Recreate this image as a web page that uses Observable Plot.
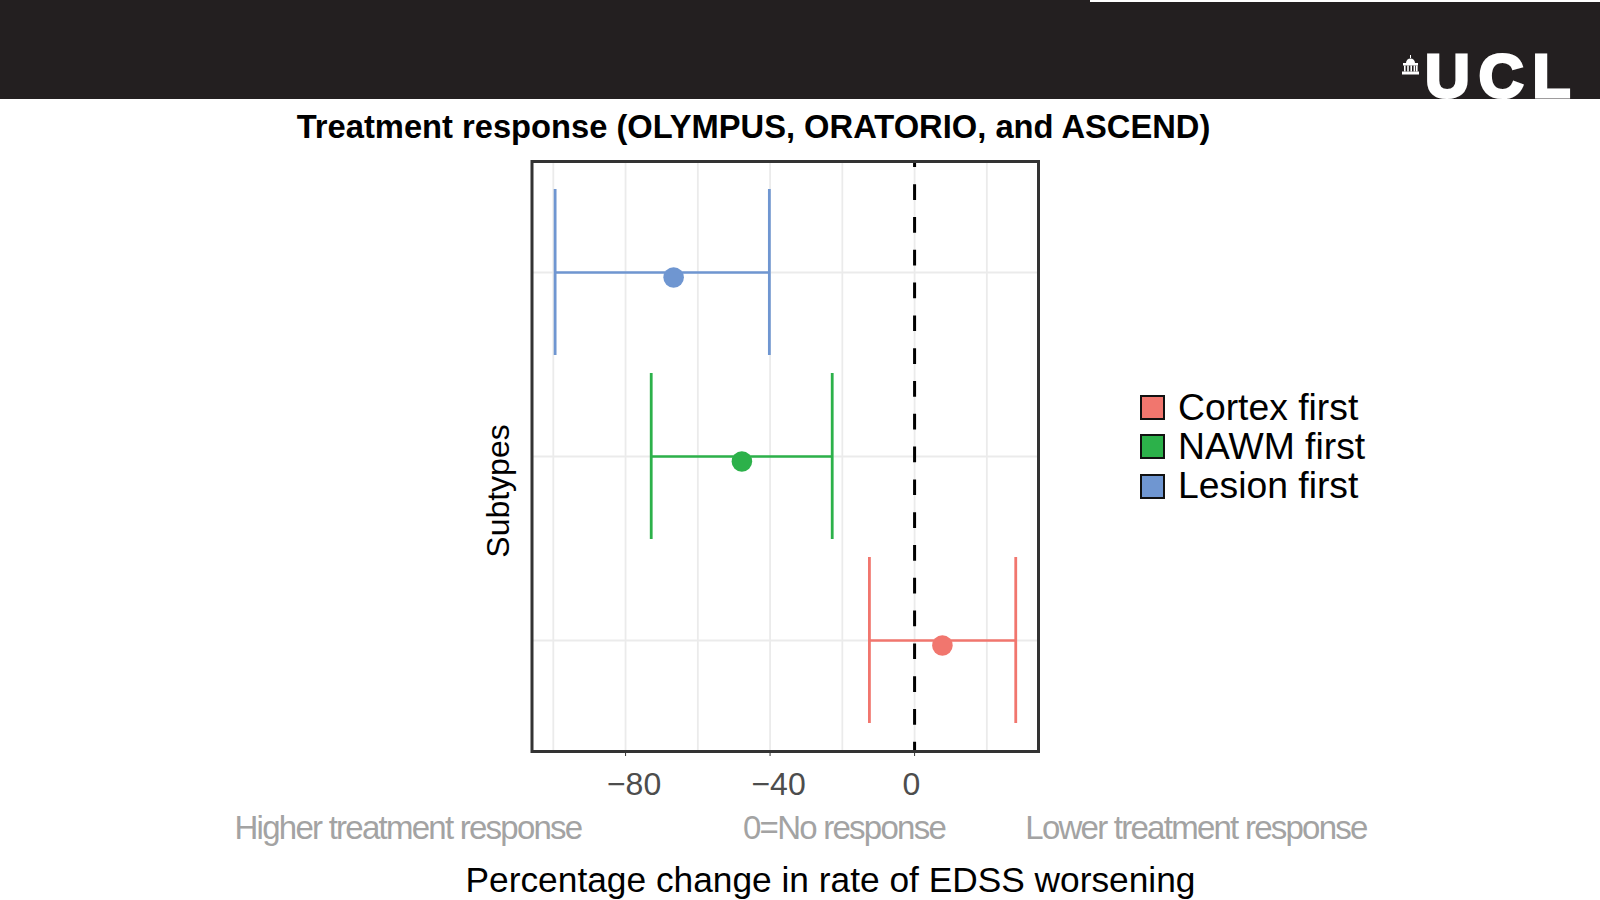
<!DOCTYPE html>
<html>
<head>
<meta charset="utf-8">
<script src="https://cdn.jsdelivr.net/npm/d3@7"></script>
<script src="https://cdn.jsdelivr.net/npm/@observablehq/plot@0.6"></script>
<style>
  html, body { margin: 0; padding: 0; background: #fff; }
  body { width: 1600px; height: 900px; position: relative; overflow: hidden;
         font-family: "Liberation Sans", Arial, Helvetica, sans-serif; }
  #chart { position: absolute; left: 0; top: 0; }
  .abs { position: absolute; line-height: 1; white-space: nowrap; }
  .c { transform: translate(-50%, -50%); }
  #banner { position: absolute; left: 0; top: 0; width: 1600px; height: 99px; background: #231f20; overflow: hidden; }
  #strip { position: absolute; left: 1090px; top: 0; width: 510px; height: 2px; background: #fff; }
  #ucl { position: absolute; left: 1425px; top: 45px; font-size: 62px; font-weight: bold; color: #fff;
         line-height: 1; letter-spacing: 9px; -webkit-text-stroke: 3.2px #fff; }
  #bldg { position: absolute; left: 1401px; top: 55px; }
  .grey { color: #a3a3a3; font-size: 33px; letter-spacing: -1.75px; }
  .legrow { position: absolute; left: 1140px; height: 25px; display: flex; align-items: center; }
  .sw { width: 25px; height: 25px; box-sizing: border-box; border: 2.8px solid #111; }
  .lt { font-size: 37.3px; line-height: 1; margin-left: 13px; color: #000; }
</style>
</head>
<body>
<div id="chart"></div>
<div id="banner">
  <div id="strip"></div>
  <svg id="bldg" width="19" height="21" viewBox="0 0 19 21">
    <rect x="9" y="0" width="1" height="3" fill="#fff"/>
    <path d="M5,8 A4.5,4.5 0 0 1 14,8 Z" fill="#fff"/>
    <rect x="2" y="8" width="15" height="2.5" fill="#fff"/>
    <rect x="3" y="10.5" width="1.6" height="6" fill="#fff"/>
    <rect x="6.2" y="10.5" width="1.6" height="6" fill="#fff"/>
    <rect x="9.4" y="10.5" width="1.6" height="6" fill="#fff"/>
    <rect x="12.6" y="10.5" width="1.6" height="6" fill="#fff"/>
    <rect x="15" y="10.5" width="1.6" height="6" fill="#fff"/>
    <rect x="1" y="16.5" width="17" height="3" fill="#fff"/>
  </svg>
  <div id="ucl">UCL</div>
</div>
<div class="abs c" style="left:753.5px; top:126.5px; font-size:32.7px; font-weight:bold; color:#000;">Treatment response (OLYMPUS, ORATORIO, and ASCEND)</div>
<div class="abs c" style="left:497.5px; top:491px; font-size:32px; color:#000; transform: translate(-50%,-50%) rotate(-90deg);">Subtypes</div>
<div id="legend"></div>
<div class="abs c grey" style="left:408px; top:826.5px;">Higher treatment response</div>
<div class="abs c grey" style="left:844px; top:826.5px;">0=No response</div>
<div class="abs c grey" style="left:1196px; top:826.5px;">Lower treatment response</div>
<div class="abs c" style="left:830.5px; top:880px; font-size:35.3px; color:#000;">Percentage change in rate of EDSS worsening</div>
<script>
// ---- Data ----
const subtypes = ["Cortex first", "NAWM first", "Lesion first"];
const estimate = [7.7, -47.8, -66.7];
const lower = [-12.5, -72.9, -99.5];
const upper = [28.0, -22.8, -40.2];
const colors = ["#F1766E", "#2CB14A", "#6F96D1"];
const yOrder = ["Lesion first", "NAWM first", "Cortex first"];
const xTicks = [-80, -40, 0];
const xTickLabels = ["\u221280", "\u221240", "0"];
const xGrid = [-100, -80, -60, -40, -20, 0, 20];

const rows = subtypes.map((s, i) => ({subtype: s, estimate: estimate[i], lower: lower[i], upper: upper[i]}));
const fmt = d => xTickLabels[xTicks.indexOf(d)];
const negTicks = xTicks.filter(d => d < 0);
const zeroTicks = xTicks.filter(d => d >= 0);

const chart = Plot.plot({
  width: 1600,
  height: 900,
  marginLeft: 531.5,
  marginRight: 562,
  marginTop: 161,
  marginBottom: 149,
  style: {fontFamily: '"Liberation Sans", Arial, Helvetica, sans-serif', background: "transparent", color: "#333333"},
  x: {domain: [-105.9, 34.3], ticks: xTicks, tickSize: 5, tickFormat: () => "", label: null},
  y: {type: "band", domain: yOrder, paddingInner: 0.1, paddingOuter: 0.15, axis: null},
  color: {domain: subtypes, range: colors},
  marks: [
    Plot.ruleX(xGrid, {x: d => d, stroke: "#ebebeb", strokeWidth: 1.8}),
    Plot.ruleY(yOrder, {y: d => d, stroke: "#ebebeb", strokeWidth: 1.8}),
    Plot.ruleX([0], {x: d => d, stroke: "#000", strokeWidth: 3, strokeDasharray: "15.7,17.1", strokeDashoffset: 9.6}),
    Plot.ruleY(rows, {y: "subtype", x1: "lower", x2: "upper", stroke: "subtype", strokeWidth: 2.7}),
    Plot.tickX(rows, {x: "lower", y: "subtype", stroke: "subtype", strokeWidth: 2.8}),
    Plot.tickX(rows, {x: "upper", y: "subtype", stroke: "subtype", strokeWidth: 2.8}),
    Plot.dot(rows, {x: "estimate", y: "subtype", fill: "subtype", r: 10.3, dy: 5}),
    Plot.frame({stroke: "#333333", strokeWidth: 3}),
    Plot.text(negTicks, {x: d => d, text: fmt, frameAnchor: "bottom", lineAnchor: "top", dy: 21, dx: 8.5, fontSize: 32, fill: "#4d4d4d"}),
    Plot.text(zeroTicks, {x: d => d, text: fmt, frameAnchor: "bottom", lineAnchor: "top", dy: 21, dx: -3.3, fontSize: 32, fill: "#4d4d4d"})
  ]
});
document.getElementById("chart").appendChild(chart);

// ---- Legend (HTML) ----
const legend = document.getElementById("legend");
const legendTops = [395, 434, 473.5];
subtypes.forEach((s, i) => {
  const row = document.createElement("div");
  row.className = "legrow";
  row.style.top = legendTops[i] + "px";
  const sw = document.createElement("div");
  sw.className = "sw";
  sw.style.background = colors[i];
  const t = document.createElement("span");
  t.className = "lt";
  t.textContent = s;
  row.appendChild(sw);
  row.appendChild(t);
  legend.appendChild(row);
});
</script>
</body>
</html>
